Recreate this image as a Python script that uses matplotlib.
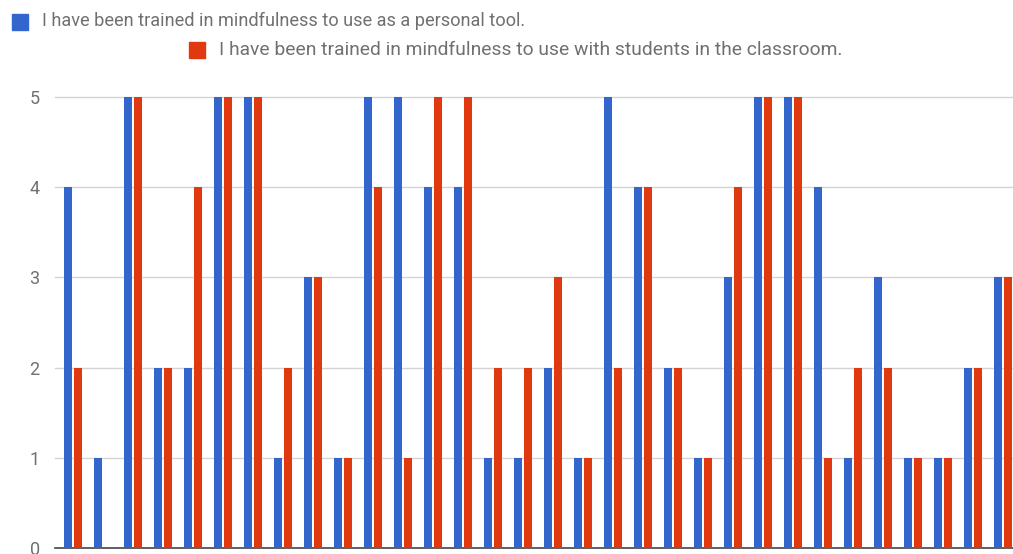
import matplotlib.pyplot as plt
from matplotlib.patches import Rectangle
import numpy as np

plt.rcParams['font.family'] = ['Roboto', 'DejaVu Sans']

# Werte pro Befragtem (0-5)
personal = [4, 1, 5, 2, 2, 5, 5, 1, 3, 1, 5, 5, 4, 4, 1, 1,
            2, 1, 5, 4, 2, 1, 3, 5, 5, 4, 1, 3, 1, 1, 2, 3]
classroom = [2, 0, 5, 2, 4, 5, 5, 2, 3, 1, 4, 1, 5, 5, 2, 2,
             3, 1, 2, 4, 2, 1, 4, 5, 5, 1, 2, 2, 1, 1, 2, 3]
labels = ["I have been trained in mindfulness to use as a personal tool.",
          "I have been trained in mindfulness to use with students in the classroom."]
yticks = [0, 1, 2, 3, 4, 5]

blue = '#3366cc'
red = '#e0380f'
grau = '#707070'

fig = plt.figure(figsize=(10.13, 5.54), dpi=100)
ax = fig.add_axes([55/1013, 6/554, 1 - 55/1013, (548 - 97)/554])

x = np.arange(len(personal))
off = 0.165
w = 0.27
ax.bar(x - off, personal, width=w, color=blue, zorder=3)
ax.bar(x + off, classroom, width=w, color=red, zorder=3)

ax.set_ylim(0, 5)
ax.set_xlim(-0.6, len(personal) - 0.67)
ax.set_yticks(yticks)
ax.set_yticklabels([str(v) for v in yticks], color=grau, fontsize=13)
ax.tick_params(axis='y', length=0, pad=11)
ax.set_xticks([])
for v in yticks[1:]:
    ax.axhline(v, color='#d4d4d4', lw=1, zorder=1, clip_on=False)
for s in ['top', 'right', 'left']:
    ax.spines[s].set_visible(False)
ax.spines['bottom'].set_color('#444444')
ax.spines['bottom'].set_linewidth(1.2)

# Legende oben
fig.patches.append(Rectangle((12/1013, 1 - 30/554), 16/1013, 16/554,
                             transform=fig.transFigure, color=blue))
fig.text(42/1013, 1 - 21/554, labels[0], color=grau, fontsize=13.05, va='center')
fig.patches.append(Rectangle((189/1013, 1 - 58/554), 16/1013, 16/554,
                             transform=fig.transFigure, color=red))
fig.text(219/1013, 1 - 50/554, labels[1], color=grau, fontsize=13.9, va='center')

fig.savefig('out.png', dpi=100)
